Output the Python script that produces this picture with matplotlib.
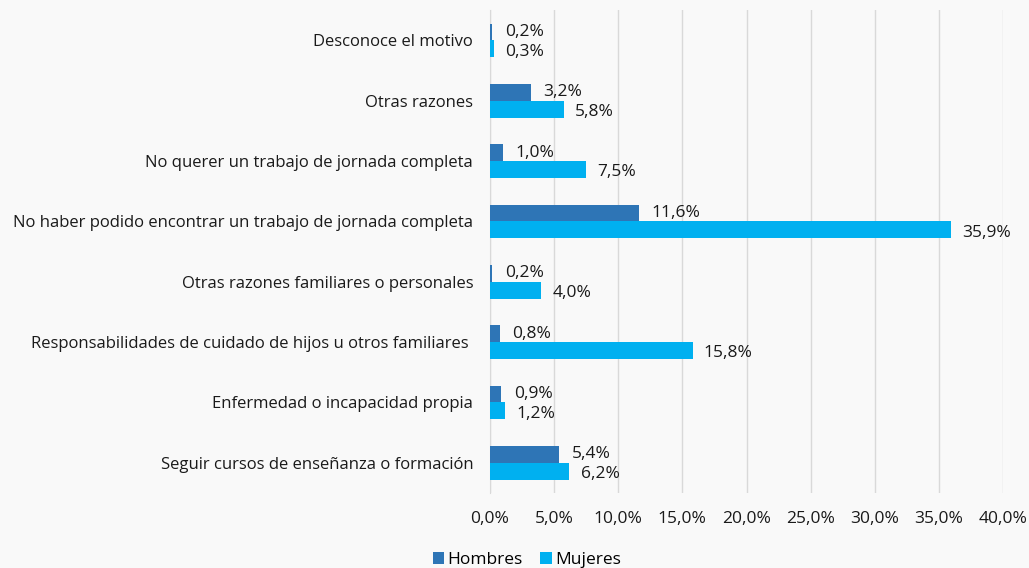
import numpy as np
import matplotlib.pyplot as plt

plt.rcParams['font.family'] = ['Open Sans', 'DejaVu Sans']

# datos
categorias = [
    "Seguir cursos de enseñanza o formación",
    "Enfermedad o incapacidad propia",
    "Responsabilidades de cuidado de hijos u otros familiares ",
    "Otras razones familiares o personales",
    "No haber podido encontrar un trabajo de jornada completa",
    "No querer un trabajo de jornada completa",
    "Otras razones",
    "Desconoce el motivo",
]
hombres = [5.4, 0.9, 0.8, 0.2, 11.6, 1.0, 3.2, 0.2]
mujeres = [6.2, 1.2, 15.8, 4.0, 35.9, 7.5, 5.8, 0.3]
ticks = [0, 5, 10, 15, 20, 25, 30, 35, 40]

c_h = "#2e75b6"
c_m = "#00b0f0"
fondo = "#f9f9f9"
texto = "#1a1a1a"

fig = plt.figure(figsize=(10.29, 5.68), dpi=100, facecolor=fondo)
ax = fig.add_axes([0.476, 0.132, 0.499, 0.850])
ax.set_facecolor(fondo)

y = np.arange(len(categorias))
h = 0.28
ax.barh(y + h / 2, hombres, height=h, color=c_h, label="Hombres", zorder=3)
ax.barh(y - h / 2, mujeres, height=h, color=c_m, label="Mujeres", zorder=3)

for i in range(len(categorias)):
    ax.annotate(f"{hombres[i]:.1f}%".replace(".", ","), (hombres[i], y[i] + h / 2),
                xytext=(9, 0), textcoords="offset points", va="center",
                fontsize=12.5, color=texto)
    ax.annotate(f"{mujeres[i]:.1f}%".replace(".", ","), (mujeres[i], y[i] - h / 2),
                xytext=(8, -2), textcoords="offset points", va="center",
                fontsize=12.5, color=texto)

ax.set_xlim(0, 40)
ax.set_ylim(-0.5, len(categorias) - 0.5)
ax.set_xticks(ticks)
ax.set_xticklabels([f"{t:.1f}%".replace(".", ",") for t in ticks], fontsize=12.5, color=texto)
ax.set_yticks(y)
ax.set_yticklabels(categorias, fontsize=12, color=texto)
ax.tick_params(axis="both", length=0)
ax.tick_params(axis="x", pad=13)
ax.tick_params(axis="y", pad=12)

ax.grid(axis="x", color="#d9d9d9", linewidth=1, zorder=0)
for s in ["top", "right", "bottom"]:
    ax.spines[s].set_visible(False)
ax.spines["left"].set_color("#d9d9d9")

fig.legend(loc="center", bbox_to_anchor=(0.512, 0.014), ncol=2, frameon=False,
           fontsize=12.5, handlelength=0.65, handleheight=0.65, handletextpad=0.2,
           columnspacing=1.0)

plt.savefig("out.png", dpi=100, facecolor=fondo)
